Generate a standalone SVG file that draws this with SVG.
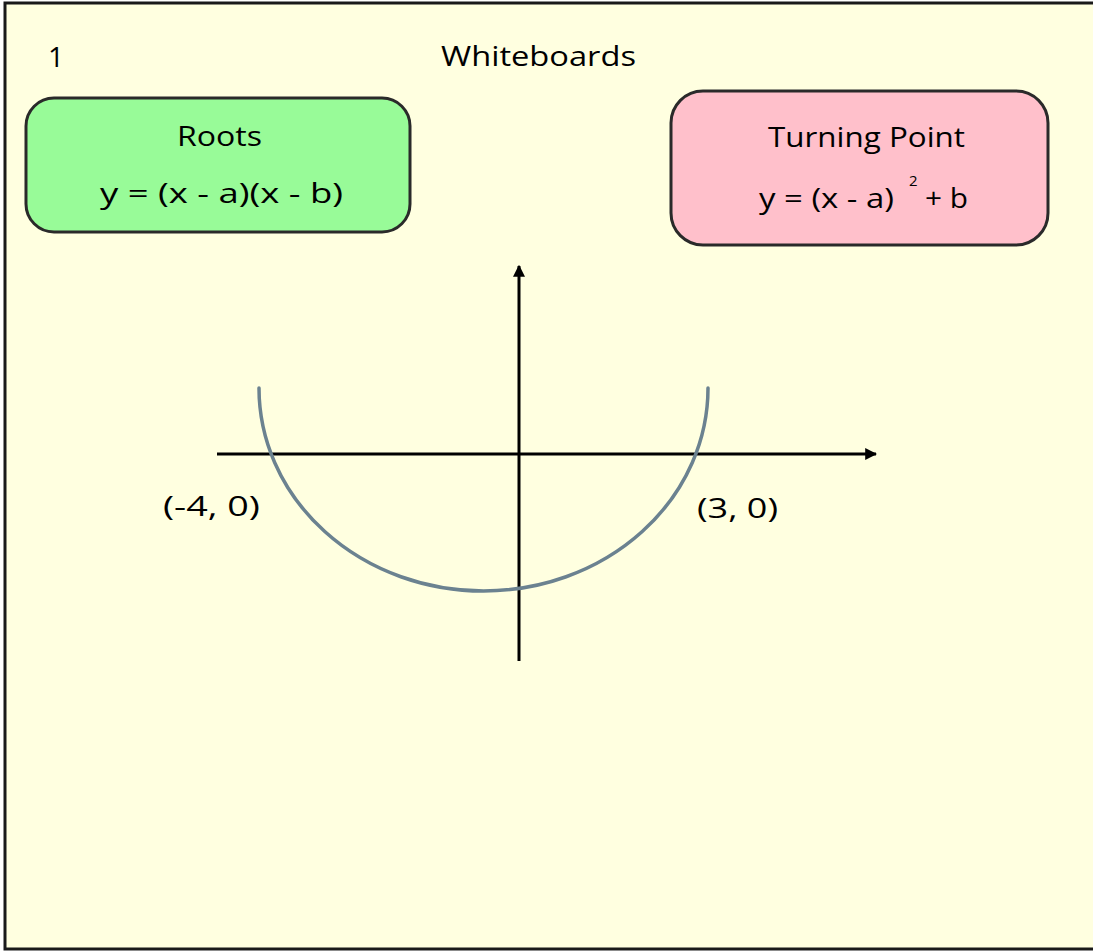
<svg xmlns="http://www.w3.org/2000/svg" width="1093" height="952" viewBox="0 0 1093 952">
  <defs>
    <style>
      .t { font-family: "Open Sans", "DejaVu Sans", sans-serif; fill: #000; }
      .box { stroke: #2a2a2a; stroke-width: 3; }
      .axis { stroke: #000; stroke-width: 3; fill: none; }
    </style>
    <marker id="arr" viewBox="0 0 10 10" refX="9" refY="5" markerWidth="4" markerHeight="4" orient="auto" markerUnits="strokeWidth">
      <path d="M0,0 L10,5 L0,10 z" fill="#000"/>
    </marker>
  </defs>
  <rect x="0" y="0" width="1093" height="952" fill="#fff"/>
  <rect x="5" y="3" width="1100" height="946" fill="#FFFFE0" stroke="#1a1a1a" stroke-width="3"/>

  <g id="title">
    <text class="t" x="48" y="67" font-size="28">1</text>
    <text class="t" x="441" y="66" font-size="28" textLength="195" lengthAdjust="spacingAndGlyphs">Whiteboards</text>
  </g>

  <g id="roots">
    <rect class="box" x="26" y="98" width="384" height="134" rx="28" ry="28" fill="#98FB98"/>
    <text class="t" x="177" y="146" font-size="28" textLength="85" lengthAdjust="spacingAndGlyphs">Roots</text>
    <text class="t" x="100" y="203" font-size="28" textLength="243" lengthAdjust="spacingAndGlyphs">y = (x - a)(x - b)</text>
  </g>

  <g id="turning-point">
    <rect class="box" x="671" y="91" width="377" height="154" rx="32" ry="32" fill="#FFC0CB"/>
    <text class="t" x="768" y="147" font-size="28" textLength="197" lengthAdjust="spacingAndGlyphs">Turning Point</text>
    <text class="t" x="759" y="208" font-size="28" textLength="135" lengthAdjust="spacingAndGlyphs">y = (x - a)</text>
    <text class="t" x="909" y="186" font-size="15">2</text>
    <text class="t" x="925" y="208" font-size="28" textLength="43" lengthAdjust="spacingAndGlyphs">+ b</text>
  </g>

  <g id="connectors">
    <line class="axis" x1="519" y1="661" x2="519" y2="266" marker-end="url(#arr)"/>
    <line class="axis" x1="217" y1="454" x2="876" y2="454" marker-end="url(#arr)"/>
  </g>

  <g id="curve">
    <path d="M259,388 A224.5,203 0 0 0 708,388" fill="none" stroke="#6B8290" stroke-width="3.5" stroke-linecap="round"/>
  </g>

  <g id="labels">
    <text class="t" x="163" y="516" font-size="28" textLength="97" lengthAdjust="spacingAndGlyphs">(-4, 0)</text>
    <text class="t" x="697" y="518" font-size="28" textLength="81" lengthAdjust="spacingAndGlyphs">(3, 0)</text>
  </g>
</svg>
